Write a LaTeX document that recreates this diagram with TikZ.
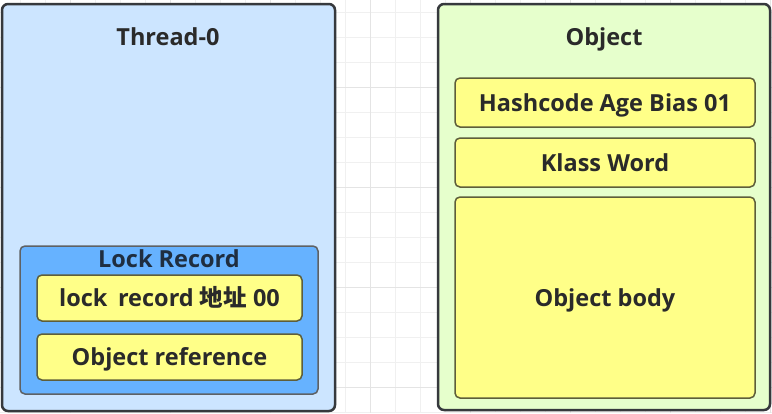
\documentclass[tikz,border=0pt]{standalone}
\usepackage{fontspec}
\setmainfont{Open Sans}
\newfontfamily\cjk{Noto Sans CJK SC}
\definecolor{threadfill}{HTML}{CCE5FF}
\definecolor{objfill}{HTML}{E6FFCC}
\definecolor{lockfill}{HTML}{66B2FF}
\definecolor{yelfill}{HTML}{FFFF88}
\definecolor{strokec}{HTML}{36393D}
\definecolor{yelstroke}{HTML}{5E5E3A}
\definecolor{txt}{HTML}{2A2A2A}
\definecolor{locktxt}{HTML}{1F2E40}
\definecolor{gridminor}{HTML}{F0F0F0}
\definecolor{gridmajor}{HTML}{E4E4E4}
\begin{document}
\begin{tikzpicture}[x=1pt,y=-1pt,
  outerbox/.style={draw=strokec,line width=2.5pt,rounded corners=6pt,rectangle,inner sep=0pt},
  lockbox/.style={draw=strokec!80,line width=1.5pt,rounded corners=5pt,fill=lockfill,rectangle,inner sep=0pt},
  fieldbox/.style={draw=yelstroke,line width=1.5pt,rounded corners=5pt,fill=yelfill,rectangle,inner sep=0pt},
  title/.style={font=\fontsize{23.5}{28}\selectfont\bfseries,text=txt,inner sep=0pt,anchor=base}]
\useasboundingbox (0,0) rectangle (772,413);
\fill[white] (0,0) rectangle (772,413);
% grid
\foreach \k in {0,...,16}{\draw[gridminor,line width=0.8pt] (0,12+25*\k) -- (772,12+25*\k);}
\foreach \k in {-14,...,17}{\draw[gridminor,line width=0.8pt] (345+25*\k,0) -- (345+25*\k,413);}
\foreach \k in {0,...,3}{\draw[gridmajor,line width=0.8pt] (0,87+100*\k) -- (772,87+100*\k);}
\foreach \k in {-3,...,4}{\draw[gridmajor,line width=0.8pt] (370+100*\k,0) -- (370+100*\k,413);}
% Thread-0
\node[outerbox,fill=threadfill,minimum width=333pt,minimum height=407pt] (thread) at (168.5,207.5) {};
\node[title] (threadlbl) at (168,45.5) {Thread-0};
\node[lockbox,minimum width=298pt,minimum height=148pt] (lock) at (169,320) {};
\node[title,text=locktxt] (locklbl) at (169,267.5) {Lock Record};
\node[fieldbox,minimum width=265pt,minimum height=46pt] (addr) at (169.5,298) {};
\node[title] (addrlbl) at (169.5,306.5) {lock\hspace{0.45em}record {\cjk 地址} 00};
\node[fieldbox,minimum width=265pt,minimum height=46pt] (ref) at (169.5,357) {};
\node[title] (reflbl) at (169.5,365.5) {Object reference};
% Object
\node[outerbox,fill=objfill,minimum width=332pt,minimum height=406pt] (obj) at (604,207) {};
\node[title] (objlbl) at (604,45.5) {Object};
\node[fieldbox,minimum width=300pt,minimum height=49pt] (hash) at (605,102.5) {};
\node[title] (hashlbl) at (605,111) {Hashcode Age Bias 01};
\node[fieldbox,minimum width=300pt,minimum height=49pt] (klass) at (605,162.5) {};
\node[title] (klasslbl) at (605,171) {Klass Word};
\node[fieldbox,minimum width=300pt,minimum height=201pt] (body) at (605,297.5) {};
\node[title] (bodylbl) at (605,306) {Object body};
\end{tikzpicture}
\end{document}
